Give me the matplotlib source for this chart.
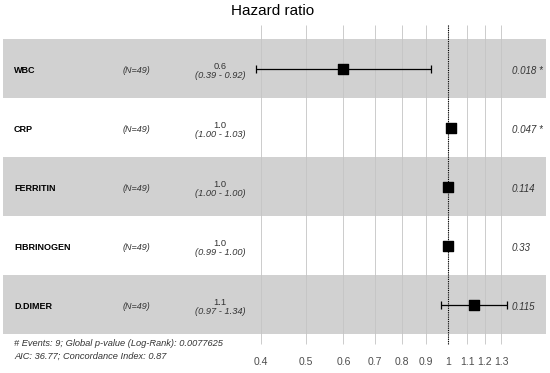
import numpy as np
import matplotlib.pyplot as plt

plt.rcParams['font.family'] = ['Liberation Sans', 'DejaVu Sans']

# данные модели
variables = ["WBC", "CRP", "FERRITIN", "FIBRINOGEN", "D.DIMER"]
n_obs = [49, 49, 49, 49, 49]
hr = [0.60, 1.015, 1.00, 1.00, 1.14]
ci_low = [0.39, 1.00, 1.00, 0.99, 0.97]
ci_high = [0.92, 1.03, 1.00, 1.00, 1.34]
p_labels = ["0.018 *", "0.047 *", "0.114", "0.33", "0.115"]
ticks = [0.4, 0.5, 0.6, 0.7, 0.8, 0.9, 1, 1.1, 1.2, 1.3]
tick_labels = ["0.4", "0.5", "0.6", "0.7", "0.8", "0.9", "1", "1.1", "1.2", "1.3"]
footer = ["# Events: 9; Global p-value (Log-Rank): 0.0077625",
          "AIC: 36.77; Concordance Index: 0.87"]

W, H = 550, 373
fig = plt.figure(figsize=(W / 100, H / 100), dpi=100)
ax = fig.add_axes([0, 0, 1, 1])
ax.axis("off")

# лог-шкала: пиксель x = x0 + k*ln(hr)
x0, k = 447.7, 204.0
ax.set_xlim(-x0 / k, (W - x0) / k)
# строки: центр строки i в пикселе top + h*(i+0.5)
top, h = 39.3, 59.0
row = lambda py: (py - top) / h - 0.5
ax.set_ylim(row(H), row(0))

n = len(variables)
tr = ax.get_yaxis_transform()

# полосы
for i in range(n):
    if i % 2 == 0:
        ax.axhspan(i - 0.5, i + 0.5, xmin=3 / W, xmax=545.5 / W,
                   color="#d1d1d1", lw=0, zorder=0)

# сетка
lt = np.log(ticks)
ax.vlines(lt, row(25), row(344), color="#c4c4c4", lw=0.6, zorder=1)
ax.vlines(0, row(25), row(344), color="black", lw=0.8, linestyles=(0, (1, 1)), zorder=2)
for t, lab in zip(lt, tick_labels):
    ax.text(t, row(362), lab, ha="center", va="center", fontsize=7.5, color="#4d4d4d")

# точки и интервалы
y = np.arange(n)
ax.errorbar(np.log(hr), y,
            xerr=[np.log(hr) - np.log(ci_low), np.log(ci_high) - np.log(hr)],
            fmt="none", ecolor="black", elinewidth=0.9, capsize=3, capthick=0.9, zorder=3)
ax.scatter(np.log(hr), y, marker="s", s=62, color="black", zorder=4)

# текстовые колонки
for i in range(n):
    ax.text(14 / W, i + 0.03, variables[i], transform=tr, ha="left", va="center",
            fontsize=6.5, fontweight="bold", color="black")
    ax.text(136 / W, i + 0.03, f"(N={n_obs[i]})", transform=tr, ha="center", va="center",
            fontsize=6.5, style="italic", color="#333333")
    ax.text(220 / W, i - 0.04, f"{hr[i]:.1f}", transform=tr, ha="center", va="center",
            fontsize=6.7, color="#333333")
    ax.text(220 / W, i + 0.11, f"({ci_low[i]:.2f} - {ci_high[i]:.2f})", transform=tr,
            ha="center", va="center", fontsize=6.7, style="italic", color="#333333")
    ax.text(512 / W, i + 0.03, p_labels[i], transform=tr, ha="left", va="center",
            fontsize=7, style="italic", color="#333333")

ax.text(14 / W, row(343.5), footer[0], transform=tr, ha="left", va="center",
        fontsize=6.65, style="italic", color="#333333")
ax.text(14 / W, row(356.5), footer[1], transform=tr, ha="left", va="center",
        fontsize=6.65, style="italic", color="#333333")

ax.text(273 / W, row(11), "Hazard ratio", transform=tr, ha="center", va="center",
        fontsize=11, color="black")

fig.savefig("out.png", dpi=100)
